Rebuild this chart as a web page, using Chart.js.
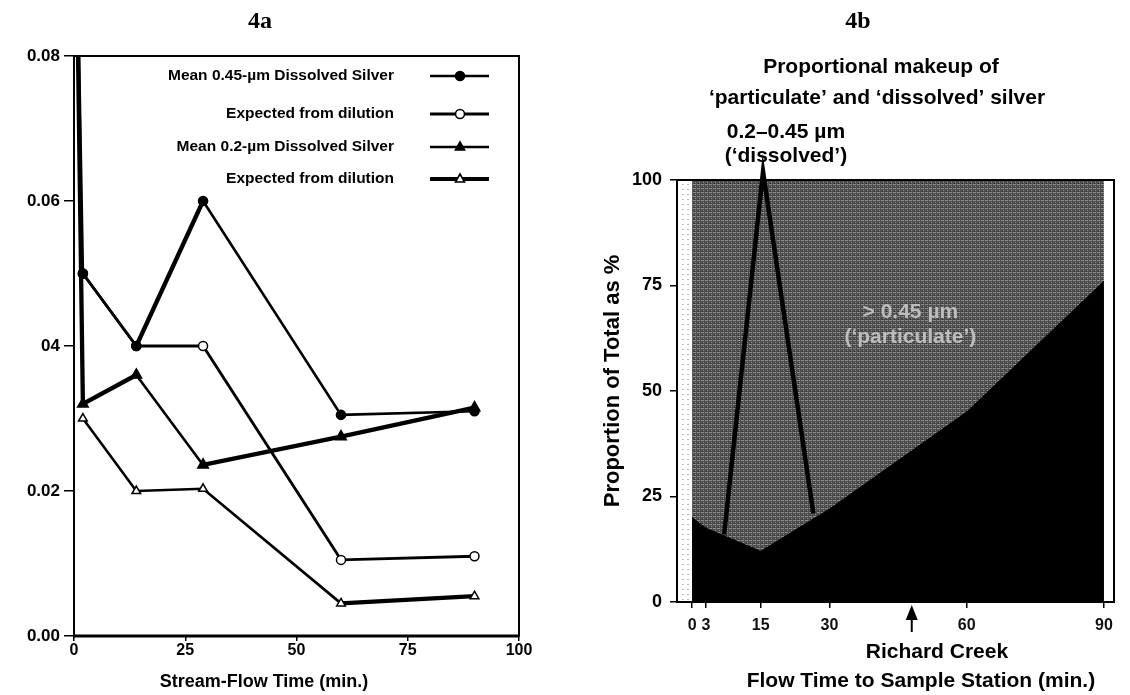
<!DOCTYPE html>
<html><head><meta charset="utf-8">
<script src="https://cdn.jsdelivr.net/npm/chart.js@4.4.1/dist/chart.umd.min.js"></script>
<style>
html,body{margin:0;padding:0;background:#fff;}
#wrap{position:relative;width:1130px;height:695px;overflow:hidden;background:#fff;}
canvas{position:absolute;top:0;}
#ca{left:0;} #cb{left:565px;}
</style></head><body>
<div id="wrap"><canvas id="ca" width="565" height="695"></canvas><canvas id="cb" width="565" height="695"></canvas></div>
<script>
// ---------- panel 4a data ----------
const timeA = [0, 2, 14, 29, 60, 90];
const mean045 = [0.12, 0.05, 0.04, 0.06, 0.0305, 0.031];
const expected045 = [null, 0.05, 0.04, 0.04, 0.0105, 0.011];
const mean02 = [0.12, 0.032, 0.036, 0.0236, 0.0275, 0.0315];
const expected02 = [null, 0.030, 0.020, 0.0203, 0.0045, 0.0055];
const seriesNamesA = ['Mean 0.45-µm Dissolved Silver', 'Expected from dilution', 'Mean 0.2-µm Dissolved Silver', 'Expected from dilution'];
const xTicksA = [0, 25, 50, 75, 100];
const yTicksA = [0, 0.02, 0.04, 0.06, 0.08];
const yTickLabelsA = ['0.00', '0.02', '04', '0.06', '0.08'];

// ---------- panel 4b data ----------
const timeB = [0, 3, 15, 30, 60, 90];
const below02 = [20, 17.5, 12, 22, 45, 76];      // top of black band, %
const spikeTime = [7, 15.5, 26.5];
const spikeValue = [16, 102, 21];
const xTicksB = [0, 3, 15, 30, 60, 90];
const yTicksB = [0, 25, 50, 75, 100];
const richardCreekTime = 48;

const SANS = '"Liberation Sans", Arial, sans-serif';
const SERIF = '"Liberation Serif", "Times New Roman", serif';
const pts = (xs, ys) => xs.map((x, i) => ({x: x, y: ys[i]}));

// ================= PANEL 4a =================
const noMarkFirst = [0, 4, 4, 4, 4, 4];
const dsA = [
  {label: seriesNamesA[0], data: pts(timeA, mean045), borderColor:'#000', borderWidth:2.6, thick:[2],
   pointStyle:'circle', pointRadius: noMarkFirst, pointBackgroundColor:'#000', pointBorderColor:'#000', order:0, filled:true},
  {label: seriesNamesA[1], data: pts(timeA, expected045), borderColor:'#000', borderWidth:2.8, thick:[],
   pointStyle:'circle', pointRadius: 4.5, pointBackgroundColor:'#fff', pointBorderColor:'#000', pointBorderWidth:1.5, order:1, filled:false},
  {label: seriesNamesA[2], data: pts(timeA, mean02), borderColor:'#000', borderWidth:2.6, thick:[0,1,3,4],
   pointStyle:'triangle', pointRadius: [0,5,5,5,5,5], pointBackgroundColor:'#000', pointBorderColor:'#000', order:2, filled:true},
  {label: seriesNamesA[3], data: pts(timeA, expected02), borderColor:'#000', borderWidth:2.6, thick:[4],
   pointStyle:'triangle', pointRadius: 5, pointBackgroundColor:'#fff', pointBorderColor:'#000', pointBorderWidth:1.5, order:3, filled:false, legendWidth:4.2}
];
dsA.forEach(d => {
  const base = d.borderWidth, th = d.thick;
  d.segment = {borderWidth: ctx => th.indexOf(ctx.p0DataIndex) >= 0 ? 4.3 : base};
  d.fill = false; d.tension = 0; d.spanGaps = false;
});

function marker(ctx, style, filled, x, y, r) {
  ctx.save();
  ctx.beginPath();
  if (style === 'circle') ctx.arc(x, y, r, 0, Math.PI * 2);
  else { ctx.moveTo(x, y - r); ctx.lineTo(x + r * 0.9, y + r * 0.6); ctx.lineTo(x - r * 0.9, y + r * 0.6); ctx.closePath(); }
  ctx.fillStyle = filled ? '#000' : '#fff'; ctx.fill();
  ctx.lineWidth = 1.6; ctx.strokeStyle = '#000'; ctx.stroke();
  ctx.restore();
}

const decorA = {
  id: 'decorA',
  afterDraw(chart) {
    const ctx = chart.ctx, a = chart.chartArea;
    ctx.save();
    ctx.strokeStyle = '#000';
    ctx.lineWidth = 2;
    ctx.strokeRect(a.left, a.top, a.right - a.left, a.bottom - a.top);
    ctx.lineWidth = 3;
    ctx.beginPath(); ctx.moveTo(a.left, a.bottom); ctx.lineTo(a.right, a.bottom); ctx.stroke();
    ctx.fillStyle = '#000';
    ctx.textAlign = 'center'; ctx.textBaseline = 'middle';
    ctx.font = 'bold 24px ' + SERIF;
    ctx.fillText('4a', 260, 22);
    ctx.font = 'bold 18px ' + SANS;
    ctx.fillText('Stream-Flow Time (min.)', 264, 682);
    const rows = [76, 114, 147, 179];
    ctx.font = 'bold 15.5px ' + SANS;
    chart.data.datasets.forEach((d, i) => {
      const y = rows[i];
      ctx.fillStyle = '#000'; ctx.textAlign = 'right';
      ctx.fillText(d.label, 394, y);
      ctx.lineWidth = d.legendWidth || (d.borderWidth);
      ctx.beginPath(); ctx.moveTo(430, y); ctx.lineTo(489, y); ctx.stroke();
      marker(ctx, d.pointStyle, d.filled, 460, y, d.pointStyle === 'circle' ? 4.5 : 5);
    });
    ctx.restore();
  }
};

new Chart(document.getElementById('ca'), {
  type: 'line',
  data: {datasets: dsA},
  options: {
    responsive: false, animation: false, events: [],
    layout: {padding: {top: 56, right: 46, left: 0, bottom: 0}},
    plugins: {legend: {display: false}, tooltip: {enabled: false}},
    scales: {
      x: {type: 'linear', min: 0, max: 100,
          afterBuildTicks: s => { s.ticks = xTicksA.map(v => ({value: v})); },
          afterFit: s => { s.height = 59; },
          ticks: {autoSkip: false, maxRotation: 0, padding: 0, color: '#000', font: {family: SANS, size: 16, weight: 'bold'}},
          grid: {drawOnChartArea: false, drawTicks: true, tickLength: 5, color: '#000', lineWidth: 1.5},
          border: {display: false}},
      y: {type: 'linear', min: 0, max: 0.08,
          afterBuildTicks: s => { s.ticks = yTicksA.map(v => ({value: v})); },
          afterFit: s => { s.width = 74; },
          ticks: {autoSkip: false, padding: 4, color: '#000', font: {family: SANS, size: 17, weight: 'bold'},
                  callback: (v, i) => yTickLabelsA[i]},
          grid: {drawOnChartArea: false, drawTicks: true, tickLength: 10, color: '#000', lineWidth: 1.5},
          border: {display: false}}
    }
  },
  plugins: [decorA]
});

// ================= PANEL 4b =================
function grayTexture(ctx) {
  const c = document.createElement('canvas'); c.width = 4; c.height = 4;
  const g = c.getContext('2d');
  g.fillStyle = '#4e4e4e'; g.fillRect(0, 0, 4, 4);
  g.fillStyle = '#8c8c8c'; g.fillRect(0, 0, 3, 1); g.fillRect(2, 2, 1, 1);
  g.fillStyle = '#2c2c2c'; g.fillRect(1, 3, 1, 1);
  return ctx.createPattern(c, 'repeat');
}
const cb = document.getElementById('cb');
const texture = grayTexture(cb.getContext('2d'));

const decorB = {
  id: 'decorB',
  afterDraw(chart) {
    const ctx = chart.ctx, a = chart.chartArea, xs = chart.scales.x, ys = chart.scales.y;
    ctx.save();
    ctx.strokeStyle = '#777'; ctx.lineWidth = 1; ctx.setLineDash([1, 4]);
    [a.left + 6, a.left + 11].forEach(x => { ctx.beginPath(); ctx.moveTo(x, a.top + 4); ctx.lineTo(x, a.bottom - 2); ctx.stroke(); });
    ctx.setLineDash([]);
    ctx.strokeStyle = '#000'; ctx.lineWidth = 2;
    ctx.strokeRect(a.left, a.top, a.right - a.left, a.bottom - a.top);
    ctx.fillStyle = '#000'; ctx.textAlign = 'center'; ctx.textBaseline = 'middle';
    ctx.font = 'bold 24px ' + SERIF;
    ctx.fillText('4b', 293, 22);
    ctx.font = 'bold 21px ' + SANS;
    ctx.fillText('Proportional makeup of', 316, 67);
    ctx.fillText('\u2018particulate\u2019 and \u2018dissolved\u2019 silver', 312, 98);
    const xl = xs.getPixelForValue(20.5);
    ctx.fillText('0.2\u20130.45 \u00b5m', xl, 132);
    ctx.fillText('(\u2018dissolved\u2019)', xl, 156);
    ctx.fillStyle = '#bdbdbd';
    ctx.fillText('> 0.45 \u00b5m', xs.getPixelForValue(47.7), ys.getPixelForValue(68.7));
    ctx.fillText('(\u2018particulate\u2019)', xs.getPixelForValue(47.7), ys.getPixelForValue(62.8));
    ctx.fillStyle = '#000';
    ctx.font = 'bold 22px ' + SANS;
    ctx.save(); ctx.translate(48, 381); ctx.rotate(-Math.PI / 2);
    ctx.fillText('Proportion of Total as %', 0, 0); ctx.restore();
    const ax = xs.getPixelForValue(richardCreekTime);
    ctx.beginPath(); ctx.moveTo(ax, a.bottom + 3); ctx.lineTo(ax + 6, a.bottom + 18); ctx.lineTo(ax - 6, a.bottom + 18); ctx.closePath(); ctx.fill();
    ctx.lineWidth = 2; ctx.beginPath(); ctx.moveTo(ax, a.bottom + 16); ctx.lineTo(ax, a.bottom + 30); ctx.stroke();
    ctx.font = 'bold 21px ' + SANS;
    ctx.fillText('Richard Creek', xs.getPixelForValue(53.5), 652);
    ctx.fillText('Flow Time to Sample Station (min.)', xs.getPixelForValue(50), 681);
    ctx.restore();
  }
};

new Chart(cb, {
  type: 'line',
  data: {datasets: [
    {label: '0.2\u20130.45 \u00b5m', data: pts(spikeTime, spikeValue), borderColor: '#000', borderWidth: 4.5,
     pointRadius: 0, fill: false, tension: 0, clip: false, order: 0},
    {label: '< 0.2 \u00b5m', data: pts(timeB, below02), borderColor: '#000', borderWidth: 1, backgroundColor: '#000',
     pointRadius: 0, fill: 'origin', tension: 0, order: 1},
    {label: '> 0.45 \u00b5m', data: pts([timeB[0], timeB[timeB.length - 1]], [100, 100]), borderWidth: 0, borderColor: 'rgba(0,0,0,0)',
     backgroundColor: texture, pointRadius: 0, fill: 'origin', tension: 0, order: 2}
  ]},
  options: {
    responsive: false, animation: false, events: [],
    layout: {padding: {top: 180, right: 16, left: 0, bottom: 0}},
    plugins: {legend: {display: false}, tooltip: {enabled: false}},
    scales: {
      x: {type: 'linear', min: -3.3, max: 92.2,
          afterBuildTicks: s => { s.ticks = xTicksB.map(v => ({value: v})); },
          afterFit: s => { s.height = 93; },
          ticks: {autoSkip: false, maxRotation: 0, padding: 8, color: '#111', font: {family: SANS, size: 16, weight: 'bold'}},
          grid: {drawOnChartArea: false, drawTicks: true, tickLength: 6, color: '#000', lineWidth: 1.5},
          border: {display: false}},
      y: {type: 'linear', min: 0, max: 100,
          afterBuildTicks: s => { s.ticks = yTicksB.map(v => ({value: v})); },
          afterFit: s => { s.width = 112; },
          ticks: {autoSkip: false, padding: 8, color: '#000', font: {family: SANS, size: 18, weight: 'bold'}},
          grid: {drawOnChartArea: false, drawTicks: true, tickLength: 7, color: '#000', lineWidth: 1.5},
          border: {display: false}}
    }
  },
  plugins: [decorB]
});
</script>
</body></html>
